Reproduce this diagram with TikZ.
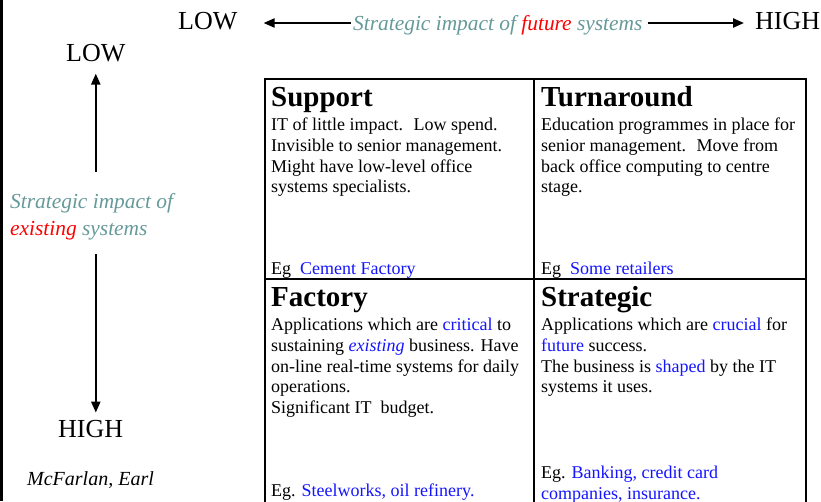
\documentclass[tikz,border=0pt]{standalone}
\usepackage{fontspec}
\setmainfont{Liberation Serif}
\usetikzlibrary{arrows.meta}
\definecolor{axisteal}{RGB}{102,153,153}
\definecolor{hiblue}{RGB}{20,20,255}
\definecolor{hired}{RGB}{255,0,0}

\begin{document}
\begin{tikzpicture}[x=1pt,y=-1pt]
        % Define styles for the grid and the texts
        \tikzstyle{quadbox} = [draw, line width=1.5pt, inner sep=0pt, anchor=north west]
        \tikzstyle{quadtitle} = [anchor=base west, inner sep=0pt, font=\fontsize{29}{32}\selectfont\bfseries]
        \tikzstyle{quadbody} = [anchor=north west, inner sep=0pt, align=left, font=\fontsize{18}{20.7}\selectfont]
        \tikzstyle{quadeg} = [anchor=base west, inner sep=0pt, font=\fontsize{18}{20.7}\selectfont]
        \tikzstyle{level} = [anchor=base west, inner sep=0pt, font=\fontsize{26}{30}\selectfont]
        \tikzstyle{axislabel} = [inner sep=0pt, text=axisteal, font=\fontsize{21.4}{27}\selectfont\itshape]
        \tikzstyle{axisarrow} = [line width=2.2pt, -{Triangle[length=11pt,width=9pt]}]
        \useasboundingbox (0,0) rectangle (821,501);
        \draw[line width=3pt] (1.5,0) -- (1.5,501);

        % Draw quadrants
        \node[quadbox, minimum width=269pt, minimum height=200pt] (support) at (264,78) {};
        \node[quadbox, minimum width=272pt, minimum height=200pt] (turnaround) at (533,78) {};
        \node[quadbox, minimum width=269pt, minimum height=250pt] (factory) at (264,278) {};
        \node[quadbox, minimum width=272pt, minimum height=250pt] (strategic) at (533,278) {};

        % Quadrant texts
        \node[quadtitle] (supporttitle) at (271,106) {Support};
        \node[quadbody] (supportbody) at (271,118) {
            IT of little impact.~ Low spend.\\
            Invisible to senior management.\\
            Might have low-level office\\
            systems specialists.
        };
        \node[quadeg] (supporteg) at (271,274) {Eg~ \textcolor{hiblue}{Cement Factory}};

        \node[quadtitle] (turnaroundtitle) at (541,106) {Turnaround};
        \node[quadbody] (turnaroundbody) at (541,118) {
            Education programmes in place for\\
            senior management.~ Move from\\
            back office computing to centre\\
            stage.
        };
        \node[quadeg] (turnaroundeg) at (541,274) {Eg~ \textcolor{hiblue}{Some retailers}};

        \node[quadtitle] (factorytitle) at (271,306) {Factory};
        \node[quadbody] (factorybody) at (271,318) {
            Applications which are \textcolor{hiblue}{critical} to\\
            sustaining \textcolor{hiblue}{\textit{existing}} business. Have\\
            on-line real-time systems for daily\\
            operations.\\
            Significant IT~ budget.
        };
        \node[quadeg] (factoryeg) at (271,496) {Eg. \textcolor{hiblue}{Steelworks, oil refinery.}};

        \node[quadtitle] (strategictitle) at (541,306) {Strategic};
        \node[quadbody] (strategicbody) at (541,318) {
            Applications which are \textcolor{hiblue}{crucial} for\\
            \textcolor{hiblue}{future} success.\\
            The business is \textcolor{hiblue}{shaped} by the IT\\
            systems it uses.
        };
        \node[quadbody] (strategiceg) at (541,466) {
            Eg. \textcolor{hiblue}{Banking, credit card}\\
            \textcolor{hiblue}{companies, insurance.}
        };

        % Axes
        \node[level] (lowfut) at (178,29) {LOW};
        \node[level] (highfut) at (755,29) {HIGH};
        \node[axislabel, anchor=base west] (futlabel) at (353,30) {Strategic impact of \textcolor{hired}{future} systems};
        \node[level] (lowexist) at (66,61) {LOW};
        \node[level] (highexist) at (58,437) {HIGH};
        \node[axislabel, anchor=north west, align=left] (existlabel) at (10,193) {Strategic impact of\\ \textcolor{hired}{existing} systems};
        \node[anchor=base west, inner sep=0pt, font=\fontsize{20}{24}\selectfont\itshape] (credit) at (27,485) {McFarlan, Earl};

        % Draw arrows
        \draw[axisarrow, shorten <=2pt, shorten >=26pt] ([yshift=7pt]futlabel.base west) -- ([yshift=7pt]futlabel.base west -| lowfut.east);
        \draw[axisarrow, shorten <=5pt, shorten >=11pt] ([yshift=7pt]futlabel.base east) -- ([yshift=7pt]futlabel.base east -| highfut.west);
        \draw[axisarrow, shorten <=21pt, shorten >=12pt] (existlabel.north -| lowexist.south) -- (lowexist.south);
        \draw[axisarrow, shorten <=14pt, shorten >=7pt] (existlabel.south -| lowexist.south) -- (highexist.north -| lowexist.south);
\end{tikzpicture}
\end{document}
